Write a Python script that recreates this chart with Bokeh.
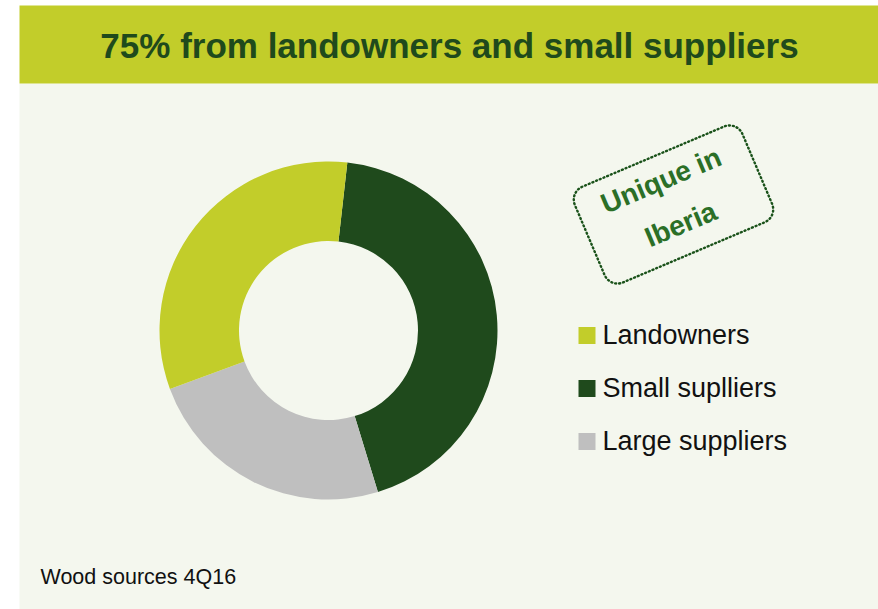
import numpy as np
from bokeh.plotting import figure
from bokeh.models import Range1d
from bokeh.core.properties import value
from bokeh.embed import file_html
from bokeh.resources import INLINE

# ---- data ----
title_text = "75% from landowners and small suppliers"
categories = ["Landowners", "Small suplliers", "Large suppliers"]
shares = [32.4, 43.5, 24.1]
colors = ["#c2cd2a", "#1f4a1c", "#bfbfbf"]
stamp_lines = ["Unique in", "Iberia"]
footnote = "Wood sources 4Q16"

# ---- style / layout ----
W, H = 878, 609
BG = "#f4f7ee"
BAND = "#c2cd2a"
DARK = "#1f4a1c"
FONT = "Liberation Sans"

def Y(img_y):
    return H - img_y

p = figure(width=W, height=H, output_backend="svg", toolbar_location=None,
           x_range=Range1d(0, W), y_range=Range1d(0, H),
           x_axis_location=None, y_axis_location=None, min_border=0)
p.grid.visible = False
p.outline_line_color = None
p.background_fill_color = "white"
p.border_fill_color = "white"

# background panel and title band
p.quad(left=[19], right=[W], bottom=[Y(H)], top=[Y(83)], fill_color=BG, line_color=None)
p.quad(left=[19], right=[W], bottom=[Y(83)], top=[Y(5)], fill_color=BAND, line_color=None)
p.text(x=[449], y=[Y(45)], text=[title_text], text_font=value(FONT), text_font_style="bold",
       text_font_size="35px", text_color=DARK, text_align="center", text_baseline="middle")

# donut: clockwise from 6.4 deg past 12 o'clock, order Small, Large, Landowners
cx, cy = 328, Y(330)
order = [1, 2, 0]
start = np.deg2rad(90 - 6.4)
total = sum(shares)
for i in order:
    sweep = 2 * np.pi * shares[i] / total
    p.annular_wedge(x=cx, y=cy, inner_radius=89.5, outer_radius=169,
                    start_angle=start, end_angle=start - sweep, direction="clock",
                    fill_color=colors[i], line_color=None)
    start -= sweep

# legend
for i, (cat, col) in enumerate(zip(categories, colors)):
    mid = 334 + i * 53
    p.rect(x=[586.5], y=[Y(mid + 1)], width=17, height=17, fill_color=col, line_color=None)
    p.text(x=[602], y=[Y(mid)], text=[cat], text_font=value(FONT), text_font_size="27px",
           text_color="#111111", text_align="left", text_baseline="middle")

# stamp: rotated rounded rectangle with dotted border
scx, scy = 673, Y(204)
theta = np.deg2rad(23)
a, b, r = 91, 52, 14
pts = []
for (ccx, ccy, a0) in [(a - r, b - r, 0), (-(a - r), b - r, 90), (-(a - r), -(b - r), 180), (a - r, -(b - r), 270)]:
    t = np.deg2rad(np.linspace(a0, a0 + 90, 12))
    pts += list(zip(ccx + r * np.cos(t), ccy + r * np.sin(t)))
pts.append(pts[0])
u = np.array([q[0] for q in pts]); v = np.array([q[1] for q in pts])
xs = scx + u * np.cos(theta) - v * np.sin(theta)
ys = scy + u * np.sin(theta) + v * np.cos(theta)
p.line(xs, ys, line_color="#1a521a", line_width=2.4, line_dash="1 3", line_cap="round")

for txt, (uu, vv) in zip(stamp_lines, [(-2, 27), (-1, -21)]):
    tx = scx + uu * np.cos(theta) - vv * np.sin(theta)
    ty = scy + uu * np.sin(theta) + vv * np.cos(theta)
    p.text(x=[tx], y=[ty], text=[txt], angle=theta, text_font=value(FONT), text_font_style="bold",
           text_font_size="28px", text_color="#2b6f27", text_align="center", text_baseline="middle")

# footnote
p.text(x=[40], y=[Y(576)], text=[footnote], text_font=value(FONT), text_font_size="21.5px",
       text_color="#111111", text_align="left", text_baseline="middle")

open("out.html", "w").write(file_html(p, INLINE))
